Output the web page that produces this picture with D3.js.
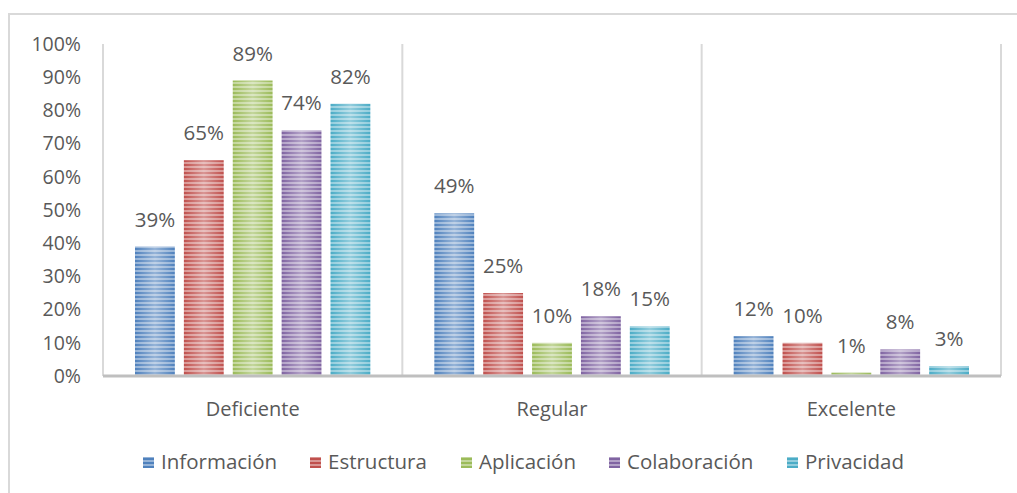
<!DOCTYPE html>
<html>
<head>
<meta charset="utf-8">
<script src="https://cdn.jsdelivr.net/npm/d3@7"></script>
<style>
  body { margin: 0; background: #fff; }
  svg text { font-family: "Open Sans", "Liberation Sans", sans-serif; fill: #595959; }
</style>
</head>
<body>
<div id="chart"></div>
<script>
var categories = ["Deficiente", "Regular", "Excelente"];
var seriesNames = ["Información", "Estructura", "Aplicación", "Colaboración", "Privacidad"];
var informacion = [39, 49, 12];
var estructura = [65, 25, 10];
var aplicacion = [89, 10, 1];
var colaboracion = [74, 18, 8];
var privacidad = [82, 15, 3];
var yTicks = [0, 10, 20, 30, 40, 50, 60, 70, 80, 90, 100];

var seriesValues = [informacion, estructura, aplicacion, colaboracion, privacidad];
var colors = ["#4f81bd", "#c0504d", "#9bbb59", "#8064a2", "#4bacc6"];

var width = 1017, height = 493;
var margin = {left: 103, right: 16, top: 44, bottom: 117};
var plotW = width - margin.left - margin.right;
var plotH = height - margin.top - margin.bottom;

var svg = d3.select("#chart").append("svg")
    .attr("width", width)
    .attr("height", height);

// outer border
svg.append("rect")
    .attr("x", 9).attr("y", 14)
    .attr("width", width + 20).attr("height", height + 20)
    .attr("fill", "none")
    .attr("stroke", "#d9d9d9")
    .attr("stroke-width", 2);

var defs = svg.append("defs");

// horizontal shine used on top of the stripes
var shine = defs.append("linearGradient")
    .attr("id", "shine")
    .attr("x1", 0).attr("y1", 0).attr("x2", 1).attr("y2", 0);
shine.append("stop").attr("offset", 0).attr("stop-color", "#fff").attr("stop-opacity", 0);
shine.append("stop").attr("offset", 0.5).attr("stop-color", "#fff").attr("stop-opacity", 0.4);
shine.append("stop").attr("offset", 1).attr("stop-color", "#fff").attr("stop-opacity", 0);

colors.forEach(function (c, i) {
    var p = defs.append("pattern")
        .attr("id", "stripe" + i)
        .attr("patternUnits", "userSpaceOnUse")
        .attr("width", 8).attr("height", 4);
    p.append("rect").attr("width", 8).attr("height", 4)
        .attr("fill", d3.interpolateRgb(c, "#fff")(0.4));
    p.append("rect").attr("width", 8).attr("height", 2)
        .attr("fill", c);
});

var g = svg.append("g").attr("transform", "translate(" + margin.left + "," + margin.top + ")");

var x0 = d3.scaleBand().domain(categories).range([0, plotW]);
var x1 = d3.scaleBand().domain(seriesNames).range([32, x0.bandwidth() - 32]).paddingInner(0.185);
var y = d3.scaleLinear().domain([0, 100]).range([plotH, 0]);

// vertical separators
g.selectAll(".sep")
    .data(d3.range(categories.length + 1))
    .enter().append("line")
    .attr("x1", function (d) { return d * x0.bandwidth(); })
    .attr("x2", function (d) { return d * x0.bandwidth(); })
    .attr("y1", 0).attr("y2", plotH)
    .attr("stroke", "#d9d9d9")
    .attr("stroke-width", 2);

// y tick labels
g.selectAll(".ytick")
    .data(yTicks)
    .enter().append("text")
    .attr("x", -22)
    .attr("y", function (d) { return y(d); })
    .attr("dy", "0.35em")
    .attr("text-anchor", "end")
    .style("font-size", "19.5px")
    .text(function (d) { return d + "%"; });

var groups = g.selectAll(".cat")
    .data(categories)
    .enter().append("g")
    .attr("transform", function (d) { return "translate(" + x0(d) + ",0)"; });

groups.selectAll(".bar")
    .data(function (d, ci) {
        return seriesNames.map(function (s, si) {
            return {series: s, si: si, value: seriesValues[si][ci]};
        });
    })
    .enter().append("g")
    .each(function (d) {
        var el = d3.select(this);
        var bx = x1(d.series), by = y(d.value), bw = x1.bandwidth(), bh = plotH - y(d.value);
        el.append("rect")
            .attr("x", bx).attr("y", by).attr("width", bw).attr("height", bh)
            .attr("fill", "url(#stripe" + d.si + ")");
        el.append("rect")
            .attr("x", bx).attr("y", by).attr("width", bw).attr("height", bh)
            .attr("fill", "url(#shine)");
        el.append("text")
            .attr("x", bx + bw / 2)
            .attr("y", by - 20)
            .attr("text-anchor", "middle")
            .style("font-size", "20.5px")
            .text(d.value + "%");
    });

// bottom axis line
g.append("line")
    .attr("x1", 0).attr("x2", plotW)
    .attr("y1", plotH).attr("y2", plotH)
    .attr("stroke", "#bfbfbf")
    .attr("stroke-width", 3);

// category labels
g.selectAll(".xlabel")
    .data(categories)
    .enter().append("text")
    .attr("x", function (d) { return x0(d) + x0.bandwidth() / 2; })
    .attr("y", plotH + 40)
    .attr("text-anchor", "middle")
    .style("font-size", "20px")
    .text(function (d) { return d; });

// legend
var legendX = [143, 310, 461, 609, 787];
var legend = svg.selectAll(".legend")
    .data(seriesNames)
    .enter().append("g")
    .attr("transform", function (d, i) { return "translate(" + legendX[i] + ",462)"; });
legend.append("rect")
    .attr("x", 0).attr("y", -5)
    .attr("width", 11).attr("height", 11)
    .attr("fill", function (d, i) { return "url(#stripe" + i + ")"; });
legend.append("text")
    .attr("x", 18)
    .attr("y", 0)
    .attr("dy", "0.35em")
    .style("font-size", "20.5px")
    .text(function (d) { return d; });
</script>
</body>
</html>
